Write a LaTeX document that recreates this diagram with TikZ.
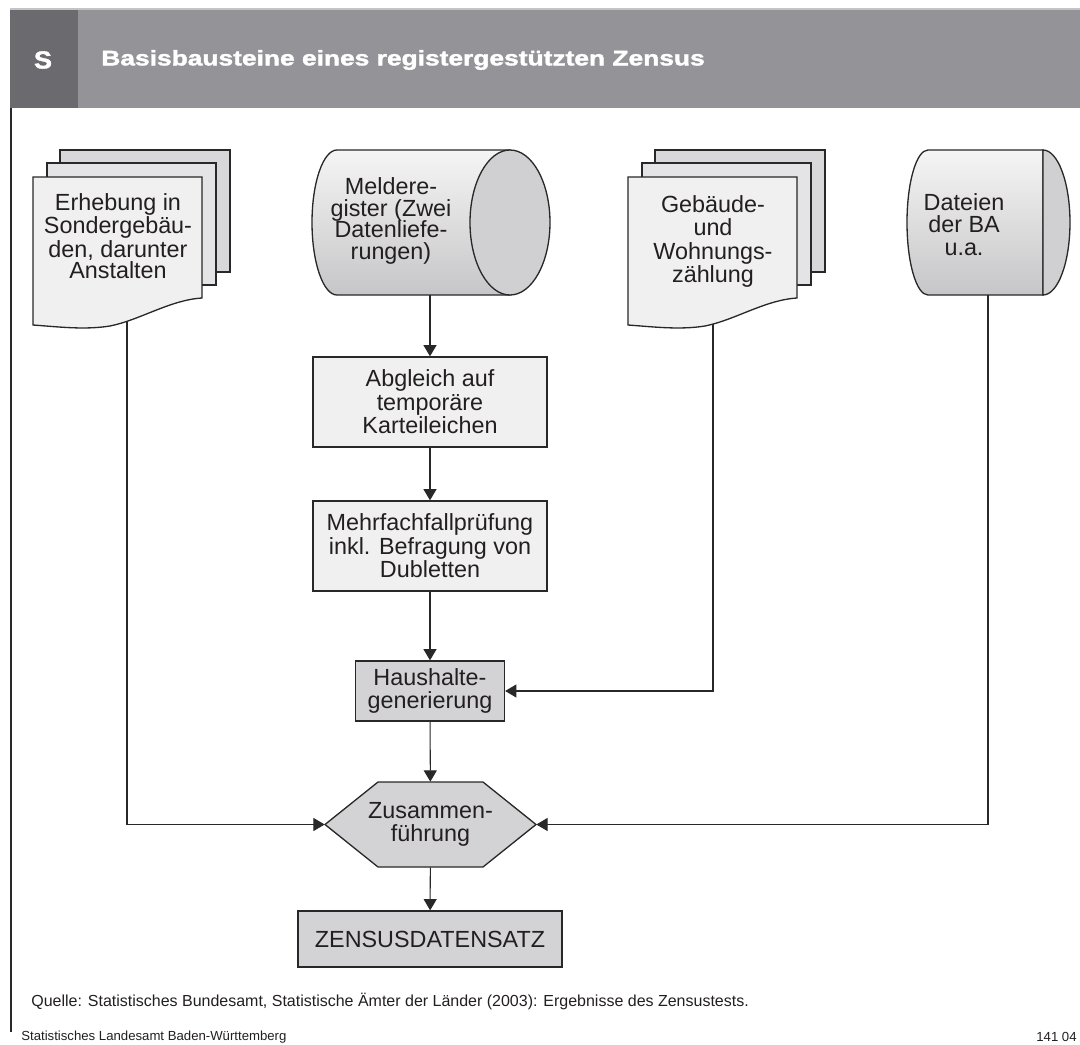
\documentclass[tikz,border=0pt]{standalone}
\usepackage{fontspec}
\setmainfont{Liberation Sans}
\newfontfamily\titelschrift[BoldFeatures={FakeBold=1.6}]{Liberation Sans}
\usepackage{graphicx}
\usetikzlibrary{arrows.meta, positioning, calc}

\definecolor{KopfGrau}{RGB}{148,148,152}
\definecolor{KopfDunkel}{RGB}{106,106,111}
\definecolor{KopfLinie}{RGB}{196,196,198}
\definecolor{Linie}{RGB}{40,40,40}
\definecolor{FuellHell}{RGB}{240,240,240}
\definecolor{FuellMittel}{RGB}{211,211,213}
\definecolor{BlattMitte}{RGB}{228,228,230}
\definecolor{BlattHinten}{RGB}{216,216,218}
\definecolor{ZylOben}{RGB}{245,245,245}
\definecolor{ZylUnten}{RGB}{198,198,200}
\definecolor{ZylDeckel}{RGB}{208,208,210}
\definecolor{Schrift}{RGB}{35,31,32}

\newcommand{\kastenfont}{\fontsize{13.3}{13.4}\selectfont}
\newcommand{\titelfont}{\titelschrift\fontsize{12}{14}\selectfont\bfseries}

\begin{document}
\begin{tikzpicture}[x=0.02cm, y=-0.02cm,
	kasten/.style={draw=Linie, line width=0.75pt, fill=FuellHell, align=center,
		font=\kastenfont, text=Schrift, inner sep=0pt},
	kastendunkel/.style={kasten, fill=FuellMittel},
	txt/.style={align=center, font=\kastenfont, text=Schrift, inner sep=0pt},
	umriss/.style={draw=Linie, line width=0.75pt},
	pfeil/.style={draw=Linie, line width=0.6pt, -{Triangle[length=6.4pt, width=7.4pt]}}]
	\useasboundingbox (0,0) rectangle (1080,1045);

	% kopfzeile
	\fill[KopfGrau] (10,9) rectangle (1080,108);
	\fill[KopfDunkel] (10,9) rectangle (78,108);
	\draw[KopfLinie, line width=0.6pt] (10,9) -- (1080,9);
	\draw[Linie, line width=0.9pt] (11,108) -- (11,1032);
	\node[text=white, font=\titelschrift\fontsize{14}{16}\selectfont\bfseries] (kenn) at (43,60)
		{\scalebox{1.1}[1]{S}};
	\node[text=white, font=\titelfont, anchor=west, inner sep=0pt] (titel) at (101,60)
		{\scalebox{1.25}[1]{Basisbausteine eines registergestützten Zensus}};

	% dokumentenstapel links und rechts
	\foreach \dx in {0,595} {
		\begin{scope}[shift={(\dx,0)}]
			\draw[umriss, fill=BlattHinten] (60,150) rectangle (230,272);
			\draw[umriss, fill=BlattMitte] (47,163) rectangle (216,285);
			\draw[umriss, fill=FuellHell] (33,177) -- (202,177) -- (202,298)
				.. controls (170,300) and (140,320) .. (110,326)
				.. controls (85,330) and (60,327) .. (33,325) -- cycle;
		\end{scope}
	}

	% melderegister (liegender zylinder)
	\draw[umriss, top color=ZylOben, bottom color=ZylUnten] (510,150) -- (337,150)
		.. controls (323.2,150) and (312,182.5) .. (312,222.5)
		.. controls (312,262.5) and (323.2,295) .. (337,295) -- (510,295) -- cycle;
	\draw[umriss, fill=ZylDeckel] (510,150)
		.. controls (532.1,150) and (550,182.5) .. (550,222.5)
		.. controls (550,262.5) and (532.1,295) .. (510,295)
		.. controls (487.9,295) and (470,262.5) .. (470,222.5)
		.. controls (470,182.5) and (487.9,150) .. (510,150) -- cycle;

	% dateien der BA
	\draw[umriss, top color=ZylOben, bottom color=ZylUnten] (1043,150) -- (928,150)
		.. controls (916.4,150) and (907,182.5) .. (907,222.5)
		.. controls (907,262.5) and (916.4,295) .. (928,295) -- (1043,295) -- cycle;
	\draw[umriss, fill=ZylDeckel] (1043,150)
		.. controls (1057.9,150) and (1070,182.5) .. (1070,222.5)
		.. controls (1070,262.5) and (1057.9,295) .. (1043,295) -- cycle;

	% zusammenfuehrung (sechseck)
	\draw[umriss, fill=FuellMittel] (325,824.5) -- (378,782) -- (483,782)
		-- (536,824.5) -- (483,867) -- (378,867) -- cycle;

	% texte der quellen
	\node[txt, font=\fontsize{13.3}{12}\selectfont] (erh) at (118,236)
		{Erhebung in\\Sondergebäu-\\den, darunter\\Anstalten};
	\node[txt, font=\fontsize{13.3}{12.4}\selectfont] (meld) at (391,221)
		{Meldere-\\gister (Zwei\\Datenliefe-\\rungen)};
	\node[txt] (geb) at (713,241.5) {Gebäude-\\und\\Wohnungs-\\zählung};
	\node[txt, font=\fontsize{13.3}{12.8}\selectfont] (dat) at (964,224.5)
		{Dateien\\der BA\\u.a.};

	% verarbeitungsschritte
	\node[kasten, minimum width=4.68cm, minimum height=1.8cm] (abgl) at (430,402)
		{Abgleich auf\\temporäre\\Karteileichen};
	\node[kasten, minimum width=4.68cm, minimum height=1.8cm] (mehr) at (430,546)
		{Mehrfachfallprüfung\\inkl. Befragung von\\Dubletten};
	\node[kastendunkel, minimum width=2.98cm, minimum height=1.2cm] (haus) at (430,691)
		{Haushalte-\\generierung};
	\node[txt, minimum width=4.22cm, minimum height=1.7cm] (zus) at (430.5,824.5)
		{Zusammen-\\führung};
	\node[kastendunkel, minimum width=5.28cm, minimum height=1.12cm] (zens) at (430,939)
		{ZENSUSDATENSATZ};

	% verbindungen
	\coordinate (erhunten) at (127,322);
	\coordinate (meldunten) at (430,295);
	\coordinate (gebunten) at (713,324);
	\coordinate (datunten) at (988,295);
	\draw[pfeil] (meldunten) -- (abgl);
	\draw[pfeil] (abgl) -- (mehr);
	\draw[pfeil] (mehr) -- (haus);
	\draw[pfeil] (gebunten) |- (haus);
	\draw[pfeil] (haus) -- (zus);
	\draw[pfeil] (erhunten) |- (zus.west);
	\draw[pfeil] (datunten) |- (zus.east);
	\draw[pfeil] (zus) -- (zens);

	% quelle und fusszeile
	\node[anchor=west, inner sep=0pt, text=Schrift, font=\fontsize{9.1}{11}\selectfont] (quelle) at (31,1001)
		{Quelle: Statistisches Bundesamt, Statistische Ämter der Länder (2003): Ergebnisse des Zensustests.};
	\node[anchor=west, inner sep=0pt, text=Schrift, font=\fontsize{7.5}{9}\selectfont] (amt) at (21,1037)
		{Statistisches Landesamt Baden-Württemberg};
	\node[anchor=east, inner sep=0pt, text=Schrift, font=\fontsize{7.5}{9}\selectfont] (nummer) at (1077,1037)
		{141 04};
\end{tikzpicture}
\end{document}
